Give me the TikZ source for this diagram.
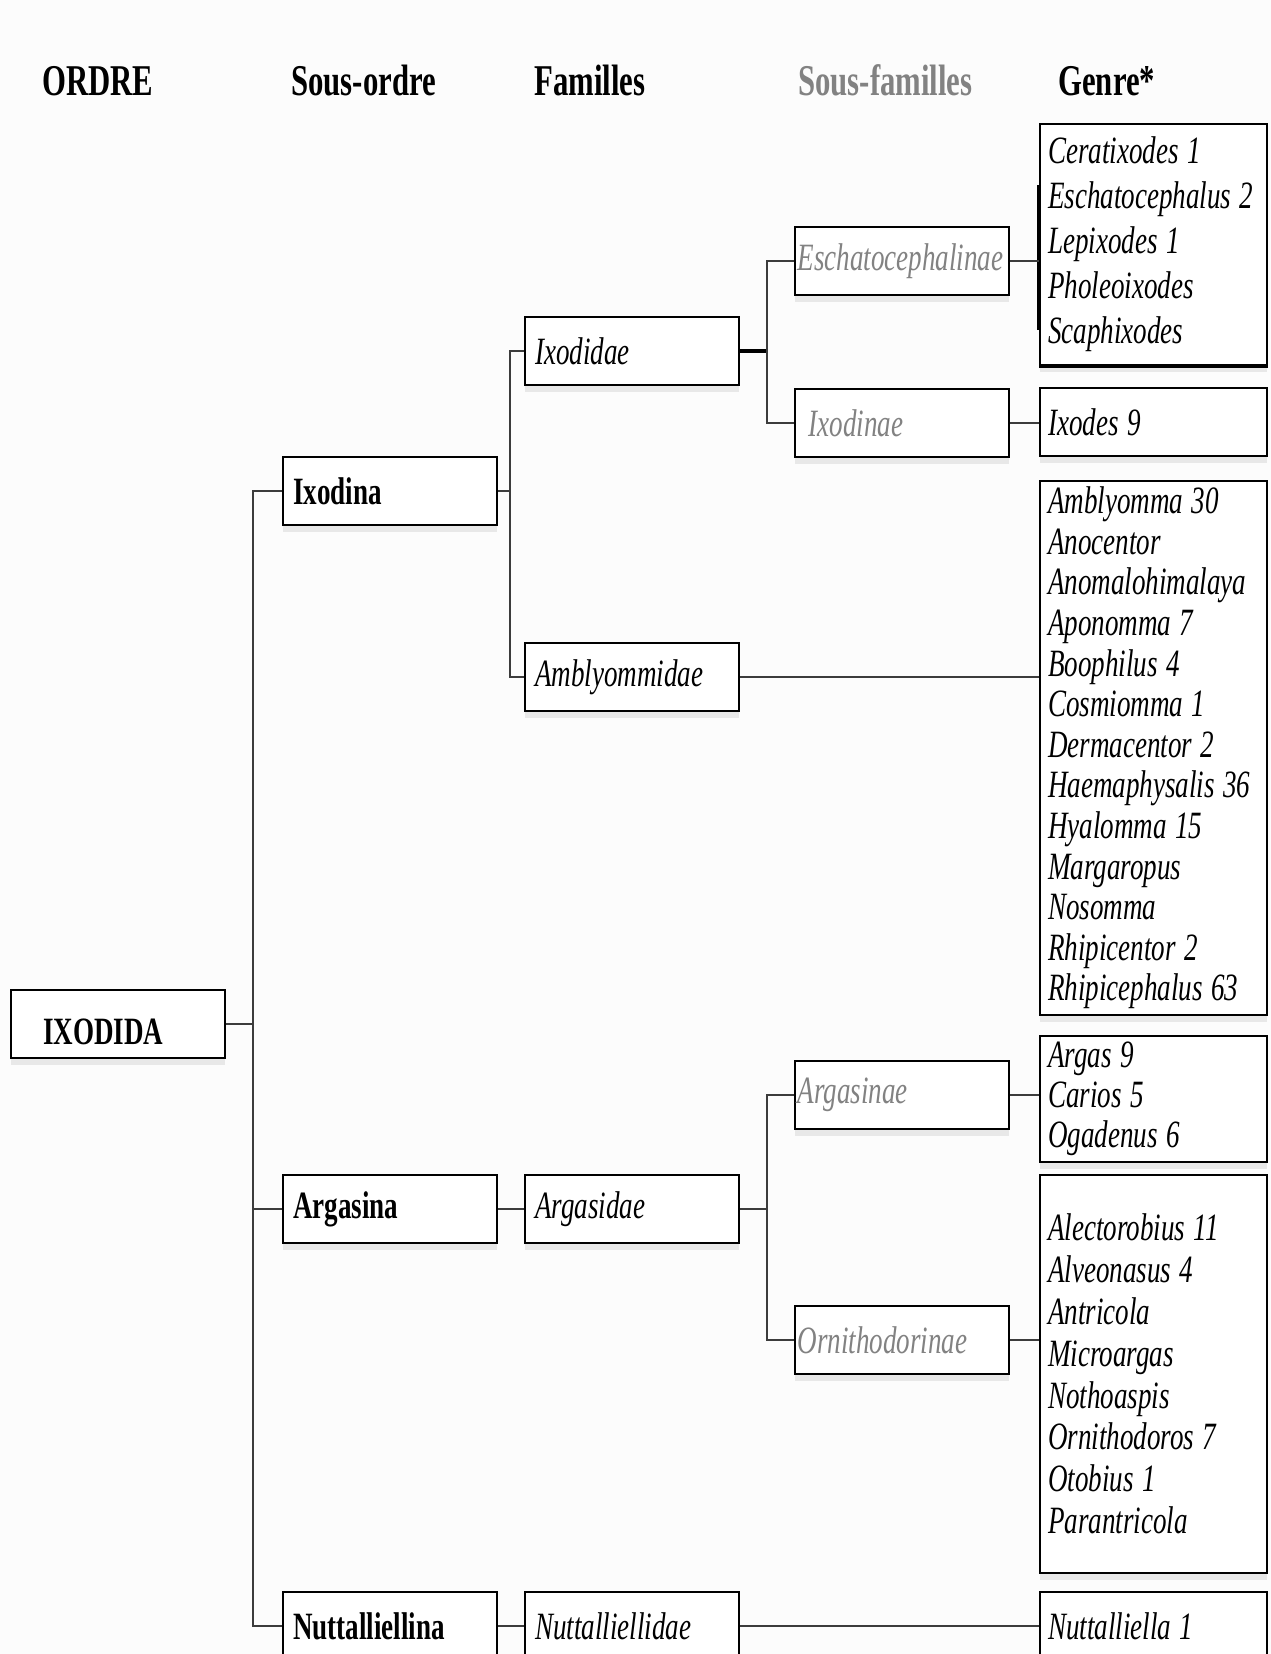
\documentclass[tikz,border=0pt]{standalone}
\usepackage{fontspec}
\setmainfont{Liberation Serif}[FakeStretch=0.7]
\usetikzlibrary{positioning,shadows}
\definecolor{subgray}{RGB}{130,130,130}
\definecolor{linegray}{RGB}{60,60,60}
\definecolor{paper}{RGB}{252,252,252}
\newcommand{\genfont}[1]{\fontsize{22}{#1}\selectfont\itshape}

\begin{document}
\begin{tikzpicture}[x=0.02cm, y=-0.02cm,
    box/.style={draw, line width=1.2pt, fill=white, anchor=north west, minimum width=4.28cm, minimum height=1.36cm,
        inner xsep=0.2cm, text width=3.88cm, align=left, font=\fontsize{22}{24}\selectfont,
        execute at begin node={\spaceskip=0.22em\relax},
        drop shadow={shadow xshift=0pt, shadow yshift=-0.14cm, opacity=0.16}},
    subbox/.style={box, inner xsep=0.05cm, text width=4.18cm, text=subgray},
    genbox/.style={box, minimum width=4.54cm, inner xsep=0.16cm, text width=4.22cm},
    head/.style={anchor=base west, inner sep=0pt, font=\fontsize{25}{27}\selectfont\bfseries},
    link/.style={line width=1.1pt, linegray}
]
    \fill[paper, use as bounding box] (0,0) rectangle (1271,1654);
    \clip (0,0) rectangle (1271,1654);

    % Headers
    \node[head] (hordre) at (42,95) {ORDRE};
    \node[head] (hsousordre) at (291,95) {Sous-ordre};
    \node[head] (hfamilles) at (534,95) {Familles};
    \node[head, text=subgray] (hsousfam) at (798,95) {Sous-familles};
    \node[head] (hgenre) at (1058,95) {Genre*};

    % Ordre
    \node[box, inner xsep=0.64cm, text width=3.0cm, text height=0.8cm, text depth=0pt,
          font=\fontsize{22}{24}\selectfont\bfseries] (ixodida) at (10,989) {IXODIDA};

    % Sous-ordres
    \node[box, font=\fontsize{22}{24}\selectfont\bfseries] (ixodina) at (282,456) {Ixodina};
    \node[box, font=\fontsize{22}{24}\selectfont\bfseries] (argasina) at (282,1174) {Argasina};
    \node[box, font=\fontsize{22}{24}\selectfont\bfseries] (nuttalliellina) at (282,1591) {Nuttalliellina};

    % Familles
    \node[box, font=\fontsize{22}{24}\selectfont\itshape] (ixodidae) at (524,316) {Ixodidae};
    \node[box, font=\fontsize{22}{24}\selectfont\itshape] (amblyommidae) at (524,642) {Amblyommidae};
    \node[box, font=\fontsize{22}{24}\selectfont\itshape] (argasidae) at (524,1174) {Argasidae};
    \node[box, font=\fontsize{22}{24}\selectfont\itshape] (nuttalliellidae) at (524,1591) {Nuttalliellidae};

    % Sous-familles
    \node[subbox, font=\fontsize{22}{24}\selectfont\itshape] (eschato) at (794,226) {Eschatocephalinae};
    \node[subbox, font=\fontsize{22}{24}\selectfont\itshape] (ixodinae) at (794,388) {\hspace*{0.22cm}Ixodinae};
    \node[subbox, font=\fontsize{22}{24}\selectfont\itshape] (argasinae) at (794,1060) {Argasinae};
    \node[subbox, font=\fontsize{22}{24}\selectfont\itshape] (ornitho) at (794,1305) {Ornithodorinae};

    % Genres
    \node[genbox, minimum height=4.82cm, font=\genfont{25.6}] (gescha) at (1039,123)
        {Ceratixodes 1\\Eschatocephalus 2\\Lepixodes 1\\Pholeoixodes\\Scaphixodes};
    \node[genbox, font=\genfont{24}] (gixodes) at (1039,387) {Ixodes 9};
    \node[genbox, minimum height=10.66cm, font=\genfont{23.1}] (gambly) at (1039,480)
        {Amblyomma 30\\Anocentor\\Anomalohimalaya\\Aponomma 7\\Boophilus 4\\Cosmiomma 1\\Dermacentor 2\\
         Haemaphysalis 36\\Hyalomma 15\\Margaropus\\Nosomma\\Rhipicentor 2\\Rhipicephalus 63};
    \node[genbox, minimum height=2.36cm, font=\genfont{22.8}] (gargas) at (1039,1035)
        {Argas 9\\Carios 5\\Ogadenus 6};
    \node[genbox, minimum height=7.96cm, font=\genfont{23.8}] (gornitho) at (1039,1174)
        {Alectorobius 11\\Alveonasus 4\\Antricola\\Microargas\\Nothoaspis\\Ornithodoros 7\\Otobius 1\\Parantricola\\[0.5cm]};
    \node[genbox, font=\genfont{24}] (gnuttall) at (1039,1591) {Nuttalliella 1};

    % Heavier strokes on the first genus box
    \draw[line width=2.6pt] (gescha.south west) -- (gescha.south east);
    \draw[line width=2.6pt] (gescha.north west) ++(0,62) -- ++(0,145);

    % Forks
    \coordinate (trunk) at (253,0);
    \coordinate (fork2) at (510,0);
    \coordinate (fork3) at (767,0);

    % Connectors
    \draw[link] (ixodida.east) -- (ixodida.east -| trunk);
    \draw[link] (ixodina.west) -- (ixodina.west -| trunk) |- (nuttalliellina.west);
    \draw[link] (argasina.west) -- (argasina.west -| trunk);

    \draw[link] (ixodina.east) -- (ixodina.east -| fork2);
    \draw[link] (ixodidae.west) -- (ixodidae.west -| fork2) |- (amblyommidae.west);
    \draw[link] (argasina.east) -- (argasidae.west);
    \draw[link] (nuttalliellina.east) -- (nuttalliellidae.west);

    \draw[link, line width=2.4pt, black] (ixodidae.east) -- (ixodidae.east -| fork3);
    \draw[link] (eschato.west) -- (eschato.west -| fork3) |- (ixodinae.west);
    \draw[link] (argasidae.east) -- (argasidae.east -| fork3);
    \draw[link] (argasinae.west) -- (argasinae.west -| fork3) |- (ornitho.west);

    \draw[link] (eschato.east) -- (eschato.east -| gescha.west);
    \draw[link] (ixodinae.east) -- (ixodinae.east -| gixodes.west);
    \draw[link] (amblyommidae.east) -- (amblyommidae.east -| gambly.west);
    \draw[link] (argasinae.east) -- (argasinae.east -| gargas.west);
    \draw[link] (ornitho.east) -- (ornitho.east -| gornitho.west);
    \draw[link] (nuttalliellidae.east) -- (nuttalliellidae.east -| gnuttall.west);
\end{tikzpicture}
\end{document}
